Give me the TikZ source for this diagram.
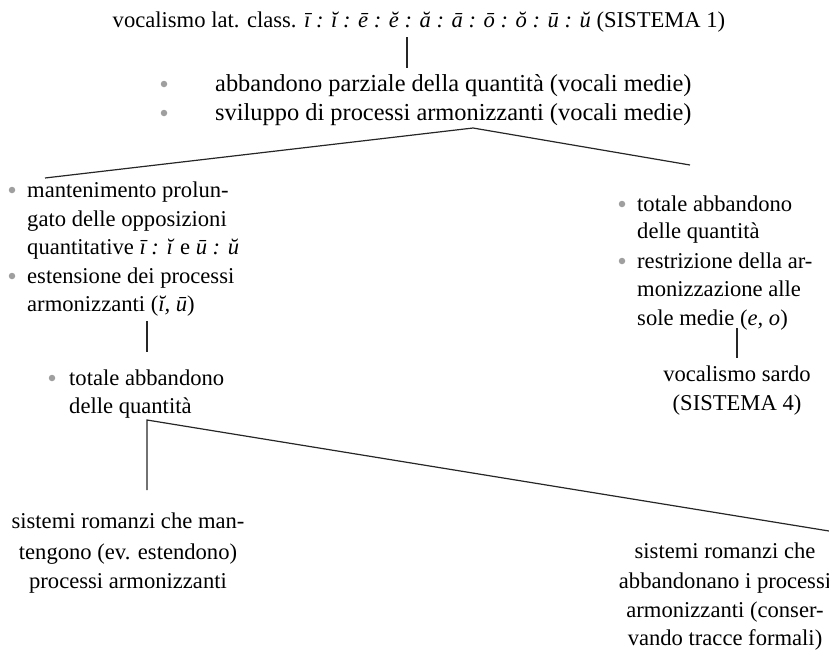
\documentclass[tikz,border=0pt]{standalone}
\usepackage{fontspec}
\setmainfont{Liberation Serif}
\begin{document}
\begin{tikzpicture}[x=1pt,y=-1pt,
  lt/.style={inner sep=0pt, anchor=base west, font=\fontsize{22.6}{29}\selectfont},
  ltb/.style={inner sep=0pt, anchor=base west, font=\fontsize{24.4}{29}\selectfont},
  ct/.style={inner sep=0pt, anchor=base, font=\fontsize{22.6}{29}\selectfont},
  dot/.style={circle, fill=gray!75, draw=none, inner sep=0pt, minimum size=6.5pt},
  ln/.style={line width=1.2pt, draw=black!85}]
\useasboundingbox (0,0) rectangle (829,656);
% title
\node[ct] (title) at (419,27) {vocalismo lat. class. \textit{ī : ĭ : ē : ĕ : ă : ā : ō : ŏ : ū : ŭ} (SISTEMA 1)};
\coordinate (v1a) at (407,37);
\coordinate (v1b) at (407,68);
\draw[ln] (v1a) -- (v1b);
% first bullets
\node[dot] (d1) at (164,84) {};
\node[ltb] (r1) at (215,91) {abbandono parziale della quantità (vocali medie)};
\node[dot] (d2) at (164,113) {};
\node[ltb] (r2) at (215,120) {sviluppo di processi armonizzanti (vocali medie)};
% branch
\coordinate (apex) at (473,128);
\coordinate (bl) at (45,178);
\coordinate (br) at (690,165);
\draw[ln] (bl) -- (apex) -- (br);
% left block
\node[dot] (d3) at (12,190) {};
\node[lt] (l1) at (27,197) {mantenimento prolun-};
\node[lt] (l2) at (27,226) {gato delle opposizioni};
\node[lt] (l3) at (27,254) {quantitative \textit{ī : ĭ} e \textit{ū : ŭ}};
\node[dot] (d4) at (12,276) {};
\node[lt] (l4) at (27,283) {estensione dei processi};
\node[lt] (l5) at (27,311) {armonizzanti (\textit{ĭ, ū})};
\coordinate (v2a) at (147,321);
\coordinate (v2b) at (147,352);
\draw[ln] (v2a) -- (v2b);
\node[dot] (d5) at (52,378) {};
\node[lt] (l6) at (69,385) {totale abbandono};
\node[lt] (l7) at (69,413) {delle quantità};
% right block
\node[dot] (d6) at (622,204) {};
\node[lt] (q1) at (637,211) {totale abbandono};
\node[lt] (q2) at (637,238) {delle quantità};
\node[dot] (d7) at (622,261) {};
\node[lt] (q3) at (637,268) {restrizione della ar-};
\node[lt] (q4) at (637,296) {monizzazione alle};
\node[lt] (q5) at (637,325) {sole medie (\textit{e, o})};
\coordinate (v3a) at (737,328);
\coordinate (v3b) at (737,358);
\draw[ln] (v3a) -- (v3b);
\node[ct] (s1) at (737,381) {vocalismo sardo};
\node[ct] (s2) at (737,410) {(SISTEMA 4)};
% bottom split
\coordinate (corner) at (147,420);
\coordinate (cdown) at (147,490);
\coordinate (cright) at (829,531);
\draw[ln] (cdown) -- (corner) -- (cright);
\node[ct] (m1) at (128,528) {sistemi romanzi che man-};
\node[ct] (m2) at (128,559) {tengono (ev. estendono)};
\node[ct] (m3) at (128,588) {processi armonizzanti};
\node[ct] (n1) at (725,558) {sistemi romanzi che};
\node[ct] (n2) at (725,588) {abbandonano i processi};
\node[ct] (n3) at (725,617) {armonizzanti (conser-};
\node[ct] (n4) at (725,645) {vando tracce formali)};
\end{tikzpicture}
\end{document}
